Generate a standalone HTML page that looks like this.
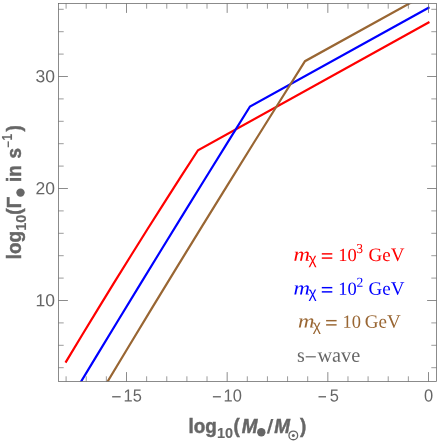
<!DOCTYPE html>
<html><head><meta charset="utf-8">
<style>
html,body{margin:0;padding:0;background:#fff;}
svg{display:block;will-change:transform;transform:translateZ(0);}
text{font-family:"Liberation Sans",sans-serif;}
text.ser{font-family:"Liberation Serif",serif;}
text.sans{font-family:"Liberation Sans",sans-serif;}
</style></head><body>
<svg width="440" height="441" viewBox="0 0 440 441">
<rect width="440" height="441" fill="#fff"/>
<defs><clipPath id="c"><rect x="58.5" y="3.5" width="378" height="378"/></clipPath></defs>
<g clip-path="url(#c)" fill="none" stroke-width="2.2" stroke-linejoin="miter" stroke-linecap="square">
<polyline stroke="#ff0000" points="66.08,361.67 81.98,335.24 98.05,308.81 114.29,282.39 130.70,255.96 147.27,229.53 164.01,203.11 180.92,176.68 198.00,150.25 428.50,22.60"/>
<polyline stroke="#0000ff" points="75.06,391.50 96.61,355.88 118.25,320.25 139.98,284.62 161.80,249.00 183.71,213.38 205.72,177.75 227.81,142.12 250.00,106.50 428.50,7.85"/>
<polyline stroke="#996633" points="101.59,391.50 126.46,350.21 151.48,308.93 176.67,267.64 202.01,226.35 227.52,185.06 253.19,143.77 279.01,102.49 305.00,61.20 428.50,-7.10"/>
</g>
<!-- frame -->
<rect x="58.5" y="3.5" width="378" height="378" fill="none" stroke="#666" stroke-width="0.75"/>
<g id="ticks" stroke="#666" stroke-width="0.75" fill="none"><path d="M126.50,381.5v-9.4M126.50,3.5v9.4M227.17,381.5v-9.4M227.17,3.5v9.4M327.83,381.5v-9.4M327.83,3.5v9.4M428.50,381.5v-9.4M428.50,3.5v9.4M58.5,300.50h9.4M436.5,300.50h-9.4M58.5,188.50h9.4M436.5,188.50h-9.4M58.5,76.50h9.4M436.5,76.50h-9.4"/><path stroke-width="0.65" d="M66.10,381.5v-5.2M66.10,3.5v5.2M86.23,381.5v-5.2M86.23,3.5v5.2M106.37,381.5v-5.2M106.37,3.5v5.2M146.63,381.5v-5.2M146.63,3.5v5.2M166.77,381.5v-5.2M166.77,3.5v5.2M186.90,381.5v-5.2M186.90,3.5v5.2M207.03,381.5v-5.2M207.03,3.5v5.2M247.30,381.5v-5.2M247.30,3.5v5.2M267.43,381.5v-5.2M267.43,3.5v5.2M287.57,381.5v-5.2M287.57,3.5v5.2M307.70,381.5v-5.2M307.70,3.5v5.2M347.97,381.5v-5.2M347.97,3.5v5.2M368.10,381.5v-5.2M368.10,3.5v5.2M388.23,381.5v-5.2M388.23,3.5v5.2M408.37,381.5v-5.2M408.37,3.5v5.2M58.5,367.70h5.2M436.5,367.70h-5.2M58.5,345.30h5.2M436.5,345.30h-5.2M58.5,322.90h5.2M436.5,322.90h-5.2M58.5,278.10h5.2M436.5,278.10h-5.2M58.5,255.70h5.2M436.5,255.70h-5.2M58.5,233.30h5.2M436.5,233.30h-5.2M58.5,210.90h5.2M436.5,210.90h-5.2M58.5,166.10h5.2M436.5,166.10h-5.2M58.5,143.70h5.2M436.5,143.70h-5.2M58.5,121.30h5.2M436.5,121.30h-5.2M58.5,98.90h5.2M436.5,98.90h-5.2M58.5,54.10h5.2M436.5,54.10h-5.2M58.5,31.70h5.2M436.5,31.70h-5.2M58.5,9.30h5.2M436.5,9.30h-5.2"/></g>
<g id="tl" fill="#666" font-size="17.5">
<text transform="translate(35.62,82.2) rotate(0.03)">30</text>
<text transform="translate(35.62,194.2) rotate(0.03)">20</text>
<text transform="translate(35.62,306.2) rotate(0.03)">10</text>
<text transform="translate(123.52,401.5) rotate(0.03) scale(0.94,1)">15</text>
<rect x="112.15" y="396.1" width="8.50" height="1.35"/>
<text transform="translate(223.55,401.5) rotate(0.03) scale(0.94,1)">10</text>
<rect x="212.90" y="396.1" width="7.95" height="1.35"/>
<text transform="translate(329.84,401.5) rotate(0.03) scale(0.94,1)">5</text>
<rect x="318.50" y="396.1" width="7.50" height="1.35"/>
<text transform="translate(424.03,401.5) rotate(0.03) scale(0.94,1)">0</text>
</g><!--endtl-->
<g transform="translate(189.5,432.7)" fill="#666" stroke="#666" stroke-width="0.45" font-weight="bold" font-size="19.3">
<text transform="translate(-1.02,0) scale(0.978,1)">log</text>
<text transform="translate(27.49,5.2)" font-size="14.5" stroke-width="0.1">10</text>
<text transform="translate(43.96,0) scale(0.978,1)">(</text>
<text transform="translate(52.27,0) scale(0.978,1)" font-style="italic">M</text>
<circle cx="71.8" cy="-0.45" r="4.2" stroke="none"/>
<text transform="translate(77.32,0) skewX(-6) scale(0.978,1)" stroke-width="0.15">/</text>
<text transform="translate(84.87,0) scale(0.978,1)" font-style="italic">M</text>
<circle cx="103.8" cy="2.7" r="4.35" fill="none" stroke="#666" stroke-width="1.3"/><circle cx="103.8" cy="2.7" r="1.5" stroke="none"/>
<text transform="translate(110.58,0) scale(0.978,1)">)</text>
</g>
<g transform="translate(20.7,258.2) rotate(-90)" fill="#666" stroke="#666" stroke-width="0.45" font-weight="bold" font-size="19.3">
<text transform="translate(-1.02,0) scale(0.978,1)">log</text>
<text transform="translate(27.39,5.2)" font-size="14.5" stroke-width="0.1">10</text>
<text transform="translate(43.46,0) scale(0.978,1)">(</text>
<text transform="translate(50.04,0) scale(0.978,1)">Γ</text>
<circle cx="65.6" cy="-0.2" r="4.2" stroke="none"/>
<text transform="translate(76.18,0) scale(0.978,1)">in</text>
<text transform="translate(99.64,0) scale(0.978,1)">s</text>
<text transform="translate(110.72,-9.1)" font-size="11.5" stroke-width="0.1">−</text>
<text transform="translate(117.67,-9.2) scale(0.8,1)" font-size="14.5" stroke-width="0.1">1</text>
<text transform="translate(126.68,0) scale(0.978,1)">)</text>
</g>
<g id="legend">
<g fill="#ff0000">
<text transform="translate(293.58,260.70) rotate(0.03) scale(1.17,1)" class="ser" font-size="19.5" font-style="italic">m</text>
<text transform="translate(308.54,264.00) rotate(0.03)" class="sans" font-size="15.5">χ</text>
<rect x="321.80" y="253.15" width="10.5" height="1.45"/><rect x="321.80" y="257.35" width="10.5" height="1.45"/>
<text transform="translate(338.17,261.00) rotate(0.03)" class="ser" font-size="18.5">10</text>
<text transform="translate(356.35,253.00) rotate(0.03)" class="ser" font-size="13.6">3</text>
<text transform="translate(368.52,261.00) rotate(0.03)" class="ser" font-size="19">GeV</text>
</g>
<g fill="#0000ff">
<text transform="translate(293.58,294.50) rotate(0.03) scale(1.17,1)" class="ser" font-size="19.5" font-style="italic">m</text>
<text transform="translate(308.54,297.80) rotate(0.03)" class="sans" font-size="15.5">χ</text>
<rect x="321.80" y="286.95" width="10.5" height="1.45"/><rect x="321.80" y="291.15" width="10.5" height="1.45"/>
<text transform="translate(338.17,294.80) rotate(0.03)" class="ser" font-size="18.5">10</text>
<text transform="translate(356.40,286.80) rotate(0.03)" class="ser" font-size="13.6">2</text>
<text transform="translate(368.52,294.80) rotate(0.03)" class="ser" font-size="19">GeV</text>
</g>
<g fill="#996633">
<text transform="translate(297.88,327.50) rotate(0.03) scale(1.17,1)" class="ser" font-size="19.5" font-style="italic">m</text>
<text transform="translate(312.84,330.80) rotate(0.03)" class="sans" font-size="15.5">χ</text>
<rect x="326.10" y="319.95" width="10.5" height="1.45"/><rect x="326.10" y="324.15" width="10.5" height="1.45"/>
<text transform="translate(342.47,327.80) rotate(0.03)" class="ser" font-size="18.5">10</text>
<text transform="translate(364.82,327.80) rotate(0.03)" class="ser" font-size="19">GeV</text>
</g>
<g fill="#666"><text transform="translate(296.93,361.80) rotate(0.03)" class="ser" font-size="20">s</text><rect x="305.7" y="356.2" width="10.1" height="1.2"/><text transform="translate(317.38,361.80) rotate(0.03)" class="ser" font-size="20.3">wave</text></g>
</g><!--endlegend-->
</svg>
</body></html>
